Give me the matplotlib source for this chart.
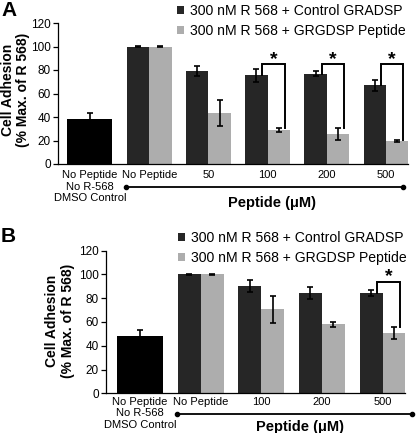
import numpy as np
import matplotlib.pyplot as plt
from matplotlib import transforms

plt.rcParams['font.family'] = ['Liberation Sans', 'DejaVu Sans']

# ---- data ----
legend_labels = ["300 nM R 568 + Control GRADSP", "300 nM R 568 + GRGDSP Peptide"]
control_label = "No Peptide\nNo R-568\nDMSO Control"
y_ticks = [0, 20, 40, 60, 80, 100, 120]

a_doses = ["No Peptide", "50", "100", "200", "500"]
a_control = 38
a_control_err = 5
a_gradsp = [100, 79, 75.5, 77, 67]
a_gradsp_err = [0.5, 4.5, 5.5, 2.5, 4.5]
a_grgdsp = [100, 43.5, 29, 25.5, 19.5]
a_grgdsp_err = [0.5, 11, 2, 5, 1]
a_sig = ["100", "200", "500"]

b_doses = ["No Peptide", "100", "200", "500"]
b_control = 48.5
b_control_err = 5
b_gradsp = [100, 90, 84, 84.5]
b_gradsp_err = [0.5, 5, 5, 2.5]
b_grgdsp = [100, 70.5, 58, 50.5]
b_grgdsp_err = [0.5, 11, 2, 5]
b_sig = ["500"]

DARK = '#262626'
LIGHT = '#adadad'
W = 416.0
H = 433.0


def panel(ax, doses, ctrl, ctrl_err, gradsp, gradsp_err, grgdsp, grgdsp_err,
          sig, bracket_top, xlim, line_y, line_x, lab_x, lab_y, tick_pad):
    ek = dict(ecolor='black', elinewidth=1.2, capsize=2.5, capthick=1.2)
    x = np.arange(1, len(doses) + 1)
    ax.bar(0, ctrl, width=0.76, color='black', yerr=ctrl_err, error_kw=ek)
    ax.bar(x - 0.19, gradsp, 0.38, color=DARK, yerr=gradsp_err, error_kw=ek,
           label=legend_labels[0])
    ax.bar(x + 0.19, grgdsp, 0.38, color=LIGHT, yerr=grgdsp_err, error_kw=ek,
           label=legend_labels[1])

    # significance brackets
    for d in sig:
        i = doses.index(d)
        xl = x[i] - 0.19 + 0.1
        xr = x[i] + 0.19 + 0.1
        ax.plot([xl, xl, xr, xr],
                [gradsp[i], bracket_top, bracket_top, grgdsp[i] + grgdsp_err[i]],
                color='black', lw=1.4, solid_joinstyle='miter')
        ax.text((xl + xr) / 2, bracket_top + 4, '*', ha='center', va='center',
                fontsize=14, fontweight='bold')

    ax.set_xlim(*xlim)
    ax.set_ylim(0, 120)
    ax.set_yticks(y_ticks)
    ax.set_xticks([0] + list(x))
    ax.set_xticklabels([control_label] + doses, fontsize=8)
    ax.tick_params(axis='x', length=0, pad=tick_pad)
    ax.tick_params(axis='y', length=3.5, width=0.9, pad=1.5, labelsize=8.5)
    for s in ['top', 'right']:
        ax.spines[s].set_visible(False)
    for s in ['left', 'bottom']:
        ax.spines[s].set_linewidth(0.9)

    trans = transforms.blended_transform_factory(ax.transData, ax.transAxes)
    ax.plot(line_x, [line_y, line_y], transform=trans, clip_on=False,
            color='black', lw=1.3, marker='o', ms=3)
    ax.text(lab_x, lab_y, 'Peptide (\u03bcM)', transform=trans, ha='center',
            va='center', fontsize=10.5, fontweight='bold')

    ax.legend(loc='upper left', frameon=False, fontsize=10.1, borderpad=0,
              borderaxespad=0, handlelength=0.5, handleheight=0.5,
              handletextpad=0.4, labelspacing=0.45)


fig = plt.figure(figsize=(4.16, 4.33), dpi=100)

ax_a = fig.add_axes([58 / W, 1 - 164 / H, 350 / W, 141 / H])
panel(ax_a, a_doses, a_control, a_control_err, a_gradsp, a_gradsp_err,
      a_grgdsp, a_grgdsp_err, a_sig, 85, (-0.54, 5.37),
      -0.165, [0.61, 5.29], 3.07, -0.274, 4.5)
ax_a.get_legend().set_bbox_to_anchor((177 / W, 1 - 4 / H), transform=fig.transFigure)

ax_b = fig.add_axes([106 / W, 1 - 393.3 / H, 299 / W, 142.7 / H])
panel(ax_b, b_doses, b_control, b_control_err, b_gradsp, b_gradsp_err,
      b_grgdsp, b_grgdsp_err, b_sig, 94, (-0.56, 4.37),
      -0.147, [0.61, 4.49], 2.64, -0.234, 2.5)
ax_b.get_legend().set_bbox_to_anchor((178 / W, 1 - 231 / H), transform=fig.transFigure)

ylab = 'Cell Adhesion\n(% Max. of R 568)'
fig.text(15.7 / W, 1 - 90 / H, ylab, rotation=90, ha='center', va='center',
         fontsize=10, fontweight='bold', linespacing=1.1)
fig.text(60 / W, 1 - 321 / H, ylab, rotation=90, ha='center', va='center',
         fontsize=10, fontweight='bold', linespacing=1.1)

fig.text(1 / W, 1 - 11 / H, 'A', ha='left', va='center', fontsize=15, fontweight='bold')
fig.text(1 / W, 1 - 236 / H, 'B', ha='left', va='center', fontsize=15, fontweight='bold')

fig.savefig('out.png', dpi=100)
